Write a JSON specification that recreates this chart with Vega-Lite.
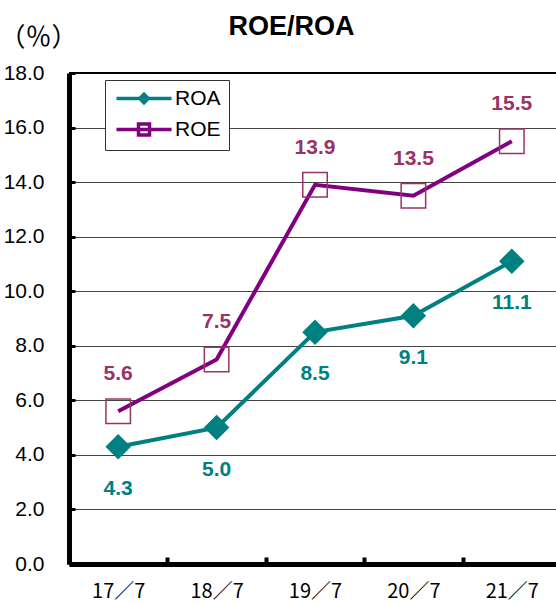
{
  "$schema": "https://vega.github.io/schema/vega-lite/v6.json",
  "width": 487,
  "height": 491,
  "autosize": {"type": "none"},
  "padding": {"left": 69, "top": 73, "right": 0, "bottom": 40},
  "background": "white",
  "title": {"text": "ROE/ROA", "fontSize": 27, "fontWeight": "bold", "font": "Liberation Sans", "color": "black", "anchor": "middle", "frame": "group", "dx": -21, "offset": -17},
  "config": {"view": {"stroke": null}},
  "data": {"values": [
    {"period": "17／7", "series": "ROA", "value": 4.3},
    {"period": "18／7", "series": "ROA", "value": 5.0},
    {"period": "19／7", "series": "ROA", "value": 8.5},
    {"period": "20／7", "series": "ROA", "value": 9.1},
    {"period": "21／7", "series": "ROA", "value": 11.1},
    {"period": "17／7", "series": "ROE", "value": 5.6},
    {"period": "18／7", "series": "ROE", "value": 7.5},
    {"period": "19／7", "series": "ROE", "value": 13.9},
    {"period": "20／7", "series": "ROE", "value": 13.5},
    {"period": "21／7", "series": "ROE", "value": 15.5}
  ]},
  "encoding": {
    "x": {"field": "period", "type": "ordinal", "sort": null,
      "scale": {"type": "band", "paddingInner": 0, "paddingOuter": 0, "range": [0, 492]},
      "axis": {"title": null, "labelAngle": 0, "labelFontSize": 20, "labelFont": "Noto Sans CJK JP", "labelColor": "black", "labelPadding": 24, "domainColor": "black", "domainWidth": 5, "tickColor": "black", "tickWidth": 4, "tickSize": -7, "tickBand": "extent", "grid": false}},
    "y": {"field": "value", "type": "quantitative",
      "scale": {"domain": [0, 18], "nice": false},
      "axis": {"title": "（％）", "titleAngle": 0, "titleX": -31, "titleY": -36, "titleAlign": "center", "titleBaseline": "middle", "titleFontSize": 26, "titleFontWeight": "normal", "titleFont": "Noto Sans CJK JP", "titleColor": "black",
        "values": [0, 2, 4, 6, 8, 10, 12, 14, 16, 18], "format": ".1f", "labelFontSize": 21, "labelFont": "Liberation Sans", "labelColor": "black", "labelPadding": 31,
        "domainColor": "black", "domainWidth": 5, "tickColor": "black", "tickWidth": 3, "tickSize": -6, "gridColor": "#444444", "gridWidth": 1}}
  },
  "layer": [
    {"mark": {"type": "rule", "color": "black", "strokeWidth": 2}, "encoding": {"y": {"datum": 18}, "x": {"value": 0}, "x2": {"value": 492}}},
    {"transform": [{"filter": "datum.series === 'ROA'"}], "mark": {"type": "line", "strokeWidth": 4, "color": "#008080"}},
    {"transform": [{"filter": "datum.series === 'ROE'"}], "mark": {"type": "line", "strokeWidth": 4, "color": "#800080"}},
    {"transform": [{"filter": "datum.series === 'ROA'"}],
      "mark": {"type": "point", "shape": "diamond", "filled": true, "size": 650, "color": "#008080", "opacity": 1}},
    {"transform": [{"filter": "datum.series === 'ROE'"}],
      "mark": {"type": "point", "shape": "square", "filled": false, "size": 600, "stroke": "#993366", "strokeWidth": 1.5, "opacity": 1}},
    {"transform": [{"filter": "datum.series === 'ROA'"}],
      "mark": {"type": "text", "dy": 42, "fontSize": 21, "fontWeight": "bold", "font": "Liberation Sans", "color": "#008080"},
      "encoding": {"text": {"field": "value", "type": "quantitative", "format": ".1f"}}},
    {"transform": [{"filter": "datum.series === 'ROE'"}],
      "mark": {"type": "text", "dy": -37, "fontSize": 21, "fontWeight": "bold", "font": "Liberation Sans", "color": "#993366"},
      "encoding": {"text": {"field": "value", "type": "quantitative", "format": ".1f"}}},
    {"mark": {"type": "point", "filled": false, "opacity": 0},
      "encoding": {
        "shape": {"field": "series", "type": "nominal", "scale": {"domain": ["ROA", "ROE"], "range": ["M-1.4,0H9.6M4.1,-0.85L4.95,0L4.1,0.85L3.25,0Z", "M-1.4,0H9.6M3,-1.1H5.2V1.1H3Z"]},
          "legend": {"orient": "none", "legendX": 36, "legendY": 7, "title": null, "labelFontSize": 21, "labelFont": "Liberation Sans", "labelColor": "black", "symbolSize": 100, "symbolStrokeWidth": 3.5, "symbolOpacity": 1, "strokeColor": "#333333", "fillColor": "white", "padding": 8, "rowPadding": 7, "labelOffset": 41}},
        "stroke": {"field": "series", "type": "nominal", "scale": {"domain": ["ROA", "ROE"], "range": ["#008080", "#800080"]},
          "legend": {"orient": "none", "legendX": 36, "legendY": 7, "title": null, "labelFontSize": 21, "labelFont": "Liberation Sans", "labelColor": "black", "symbolSize": 100, "symbolStrokeWidth": 3.5, "symbolOpacity": 1, "strokeColor": "#333333", "fillColor": "white", "padding": 8, "rowPadding": 7, "labelOffset": 41}}
      }}
  ]
}
